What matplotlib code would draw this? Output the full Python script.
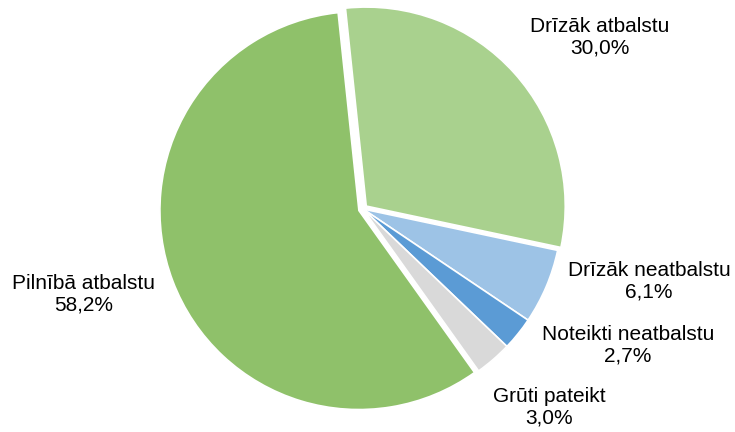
import matplotlib
matplotlib.use("Agg")
import matplotlib.pyplot as plt

labels = ["Drīzāk atbalstu", "Drīzāk neatbalstu", "Noteikti neatbalstu", "Grūti pateikt", "Pilnībā atbalstu"]
values = [30.0, 6.1, 2.7, 3.0, 58.2]
colors = ["#A9D18E", "#9DC3E6", "#5B9BD5", "#D9D9D9", "#8FC16A"]
explode = [0.022, 0, 0, 0, 0.022]

# label positions in pixel coordinates (centre of the text block)
label_px = [(600, 37), (649, 281), (628, 345), (549, 407), (84, 294)]

W, H = 735, 432
cx, cy, R = 363, 209, 199

fig = plt.figure(figsize=(W / 100, H / 100), dpi=100)
ax = fig.add_axes([0, 0, 1, 1])
ax.pie(values, colors=colors, explode=explode, startangle=96, counterclock=False,
       radius=1, center=(0, 0),
       wedgeprops=dict(edgecolor="white", linewidth=1.2))
ax.set_xlim(-cx / R, (W - cx) / R)
ax.set_ylim(-(H - cy) / R, cy / R)
ax.set_aspect("auto")
ax.axis("off")

for lab, v, (px, py) in zip(labels, values, label_px):
    txt = f"{lab}\n{v:.1f}%".replace(".", ",")
    ax.text((px - cx) / R, (cy - py) / R, txt, ha="center", va="center",
            fontsize=15, family="Liberation Sans", color="#000000", linespacing=1.15)

fig.savefig("out.png", dpi=100)
